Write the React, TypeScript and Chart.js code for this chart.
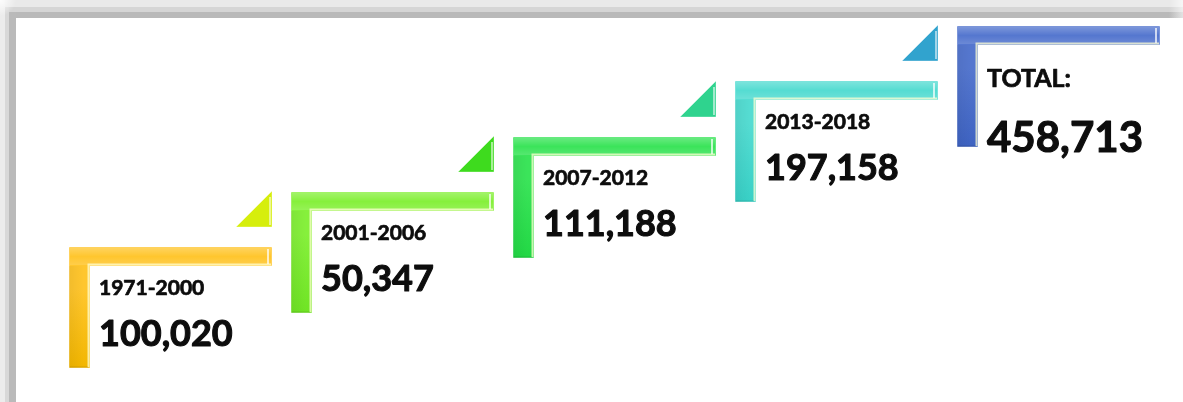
import React, { useEffect, useRef } from "react";
import { Chart, registerables } from "chart.js";

Chart.register(...registerables);

// ---- data ----
const periods = ["1971-2000", "2001-2006", "2007-2012", "2013-2018", "TOTAL:"];
const totals = [100020, 50347, 111188, 197158, 458713];
const stepIndex = [0, 1, 2, 3, 4];

// ---- styles ----
const barColors = ["#FFC62E", "#86F03C", "#3BE45A", "#55DCD2", "#5577CF"];
const barDark = ["#F2B600", "#6FE424", "#22D845", "#38D0C6", "#3E63C2"];
const triColors = ["#D6EE0C", "#3EDB1E", "#2FD38E", "#31A3CE", null];

const W = 203;
const T = 19;
const V = 21;
const H = 121;
const TRI = 36;

const stepsPlugin = {
  id: "steps",
  beforeDraw(chart: any) {
    const ctx = chart.ctx as CanvasRenderingContext2D;
    const w = chart.width;
    const h = chart.height;
    ctx.save();
    ctx.fillStyle = "#ffffff";
    ctx.fillRect(0, 0, w, h);
    ctx.fillStyle = "#e9e9e9";
    ctx.fillRect(0, 0, w, 7);
    ctx.fillStyle = "#d5d5d5";
    ctx.fillRect(5, 7, w - 5, 5);
    ctx.fillStyle = "#b9b9b9";
    ctx.fillRect(10, 12, w - 10, 6);
    ctx.fillStyle = "#ececec";
    ctx.fillRect(0, 0, 5, h);
    ctx.fillStyle = "#d8d8d8";
    ctx.fillRect(5, 7, 4, h - 7);
    ctx.fillStyle = "#bababa";
    ctx.fillRect(9, 12, 7, h - 12);
    const g = ctx.createRadialGradient(0, 0, 0, 0, 0, 16);
    g.addColorStop(0, "rgba(255,255,255,0.9)");
    g.addColorStop(1, "rgba(255,255,255,0)");
    ctx.fillStyle = g;
    ctx.fillRect(0, 0, 18, 18);
    const g2 = ctx.createLinearGradient(w - 14, 0, w, 0);
    g2.addColorStop(0, "rgba(255,255,255,0)");
    g2.addColorStop(1, "rgba(255,255,255,0.6)");
    ctx.fillStyle = g2;
    ctx.fillRect(w - 14, 0, 14, 18);
    ctx.restore();
  },
  afterDatasetsDraw(chart: any) {
    const ctx = chart.ctx as CanvasRenderingContext2D;
    const meta = chart.getDatasetMeta(0);
    meta.data.forEach((pt: any, i: number) => {
      const px = Math.round(pt.x);
      const py = Math.round(pt.y);
      ctx.save();
      ctx.beginPath();
      ctx.moveTo(px, py);
      ctx.lineTo(px + W, py);
      ctx.lineTo(px + W, py + T);
      ctx.lineTo(px + V, py + T);
      ctx.lineTo(px + V, py + H);
      ctx.lineTo(px, py + H);
      ctx.closePath();
      const gv = ctx.createLinearGradient(0, py, 0, py + H);
      gv.addColorStop(0, barColors[i]);
      gv.addColorStop(0.35, barColors[i]);
      gv.addColorStop(1, barDark[i]);
      ctx.fillStyle = gv;
      ctx.fill();
      ctx.strokeStyle = "rgba(255,255,255,0.45)";
      ctx.lineWidth = 1;
      ctx.stroke();
      const gh = ctx.createLinearGradient(0, py, 0, py + T);
      gh.addColorStop(0, "rgba(255,255,255,0.25)");
      gh.addColorStop(0.5, "rgba(255,255,255,0)");
      gh.addColorStop(1, "rgba(255,255,255,0.15)");
      ctx.fillStyle = gh;
      ctx.fillRect(px + 1, py + 1, W - 2, T - 2);
      const gl = ctx.createLinearGradient(px, 0, px + V, 0);
      gl.addColorStop(0, "rgba(0,0,0,0.05)");
      gl.addColorStop(0.7, "rgba(0,0,0,0)");
      ctx.fillStyle = gl;
      ctx.fillRect(px, py + T, V - 2, H - T);
      ctx.beginPath();
      ctx.moveTo(px + V - 1.5, py + H - 1);
      ctx.lineTo(px + V - 1.5, py + T - 1.5);
      ctx.lineTo(px + W - 1, py + T - 1.5);
      ctx.strokeStyle = "rgba(255,255,210,0.75)";
      ctx.lineWidth = 2;
      ctx.stroke();
      ctx.beginPath();
      ctx.moveTo(px + W - 4, py + 2);
      ctx.lineTo(px + W - 4, py + T - 2);
      ctx.strokeStyle = "rgba(255,255,255,0.7)";
      ctx.lineWidth = 2;
      ctx.stroke();
      ctx.beginPath();
      ctx.moveTo(px + 1, py + H - 1);
      ctx.lineTo(px + V - 2, py + H - 1);
      ctx.strokeStyle = "rgba(0,0,0,0.08)";
      ctx.lineWidth = 1.5;
      ctx.stroke();

      const tc = triColors[i];
      if (tc) {
        ctx.beginPath();
        ctx.moveTo(px + W - TRI, py - 20);
        ctx.lineTo(px + W, py - 20);
        ctx.lineTo(px + W, py - 20 - TRI);
        ctx.closePath();
        ctx.fillStyle = tc;
        ctx.fill();
        ctx.strokeStyle = "rgba(255,255,255,0.35)";
        ctx.lineWidth = 1;
        ctx.stroke();
        ctx.beginPath();
        ctx.moveTo(px + W - 2, py - 22);
        ctx.lineTo(px + W - 2, py - 18 - TRI + 4);
        ctx.strokeStyle = "rgba(255,255,255,0.55)";
        ctx.lineWidth = 2;
        ctx.stroke();
      }

      const isTotal = i === periods.length - 1;
      ctx.fillStyle = "#0d0d0d";
      ctx.strokeStyle = "#0d0d0d";
      ctx.lineJoin = "round";
      ctx.textAlign = "left";
      ctx.textBaseline = "alphabetic";
      ctx.font = isTotal ? "bold 25px Lato" : "bold 21px Lato";
      const ly = py + (isTotal ? 61 : 48);
      ctx.lineWidth = 0.7;
      ctx.fillText(periods[i], px + 30, ly);
      ctx.strokeText(periods[i], px + 30, ly);
      ctx.font = isTotal ? "bold 42px Lato" : "bold 36px Lato";
      const vy = py + (isTotal ? 126 : 99);
      const vt = totals[i].toLocaleString("en-US");
      ctx.lineWidth = 1.1;
      ctx.fillText(vt, px + 30, vy);
      ctx.strokeText(vt, px + 30, vy);
      ctx.restore();
    });
  },
};

export default function App() {
  const ref = useRef<HTMLCanvasElement | null>(null);
  useEffect(() => {
    if (!ref.current) return;
    const CW = 1183;
    const CH = 402;
    const sx = 222;
    const sy = 55.25;
    const xMin = -69 / sx;
    const xMax = xMin + CW / sx;
    const yMax = 247 / sy;
    const yMin = yMax - CH / sy;
    const chart = new Chart(ref.current, {
      type: "scatter",
      data: {
        datasets: [
          {
            label: "Steps",
            data: stepIndex.map((s) => ({ x: s, y: s })),
            pointRadius: 0,
            pointHoverRadius: 0,
            showLine: false,
          },
        ],
      },
      options: {
        animation: false,
        responsive: false,
        devicePixelRatio: 1,
        layout: { padding: 0 },
        plugins: {
          legend: { display: false },
          tooltip: { enabled: false },
          title: { display: false },
        },
        events: [],
        scales: {
          x: { type: "linear", min: xMin, max: xMax, display: false },
          y: { type: "linear", min: yMin, max: yMax, display: false },
        },
      },
      plugins: [stepsPlugin],
    });
    return () => chart.destroy();
  }, []);
  return (
    <div style={{ position: "fixed", left: 0, top: 0, width: 1183, height: 402, background: "#fff" }}>
      <canvas ref={ref} width={1183} height={402} style={{ display: "block", width: 1183, height: 402 }} />
    </div>
  );
}
